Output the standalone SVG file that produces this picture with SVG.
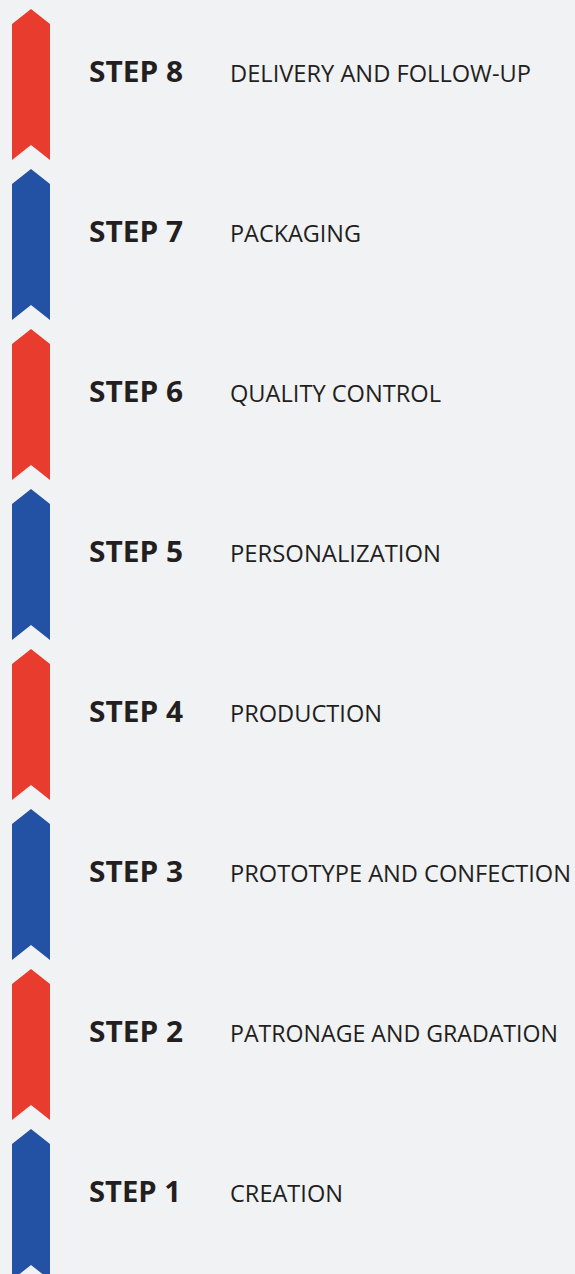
<svg xmlns="http://www.w3.org/2000/svg" xmlns:xlink="http://www.w3.org/1999/xlink" width="575" height="1274" viewBox="0 0 575 1274">
<style>
.red{fill:#E83C2F}
.blue{fill:#2352A4}
.step{font-family:"Open Sans","Liberation Sans",sans-serif;font-weight:700;font-size:28px;fill:#231F20}
.desc{font-family:"Open Sans","Liberation Sans",sans-serif;font-weight:400;font-size:24.5px;fill:#231F20}
.long{font-size:23.5px}
</style>
<defs>
<path id="chev" d="M12,24 L31,9 L50,24 L50,160 L31,145 L12,160 Z"/>
</defs>
<rect width="575" height="1274" fill="#F1F2F4"/>
<g id="connectors"></g>
<g id="step8"><use xlink:href="#chev" class="red"/><text class="step" x="89" y="82" textLength="94" lengthAdjust="spacingAndGlyphs">STEP 8</text><text class="desc" x="230" y="82" textLength="301" lengthAdjust="spacingAndGlyphs">DELIVERY AND FOLLOW-UP</text></g>
<g id="step7" transform="translate(0,160)"><use xlink:href="#chev" class="blue"/><text class="step" x="89" y="82" textLength="94" lengthAdjust="spacingAndGlyphs">STEP 7</text><text class="desc" x="230" y="82" textLength="131" lengthAdjust="spacingAndGlyphs">PACKAGING</text></g>
<g id="step6" transform="translate(0,320)"><use xlink:href="#chev" class="red"/><text class="step" x="89" y="82" textLength="94" lengthAdjust="spacingAndGlyphs">STEP 6</text><text class="desc" x="230" y="82" textLength="211" lengthAdjust="spacingAndGlyphs">QUALITY CONTROL</text></g>
<g id="step5" transform="translate(0,480)"><use xlink:href="#chev" class="blue"/><text class="step" x="89" y="82" textLength="94" lengthAdjust="spacingAndGlyphs">STEP 5</text><text class="desc" x="230" y="82" textLength="211" lengthAdjust="spacingAndGlyphs">PERSONALIZATION</text></g>
<g id="step4" transform="translate(0,640)"><use xlink:href="#chev" class="red"/><text class="step" x="89" y="82" textLength="94" lengthAdjust="spacingAndGlyphs">STEP 4</text><text class="desc" x="230" y="82" textLength="152" lengthAdjust="spacingAndGlyphs">PRODUCTION</text></g>
<g id="step3" transform="translate(0,800)"><use xlink:href="#chev" class="blue"/><text class="step" x="89" y="82" textLength="94" lengthAdjust="spacingAndGlyphs">STEP 3</text><text class="desc long" x="230" y="82" textLength="341" lengthAdjust="spacingAndGlyphs">PROTOTYPE AND CONFECTION</text></g>
<g id="step2" transform="translate(0,960)"><use xlink:href="#chev" class="red"/><text class="step" x="89" y="82" textLength="94" lengthAdjust="spacingAndGlyphs">STEP 2</text><text class="desc long" x="230" y="82" textLength="328" lengthAdjust="spacingAndGlyphs">PATRONAGE AND GRADATION</text></g>
<g id="step1" transform="translate(0,1120)"><use xlink:href="#chev" class="blue"/><text class="step" x="89" y="82" textLength="92" lengthAdjust="spacingAndGlyphs">STEP 1</text><text class="desc" x="230" y="82" textLength="113" lengthAdjust="spacingAndGlyphs">CREATION</text></g>
</svg>
